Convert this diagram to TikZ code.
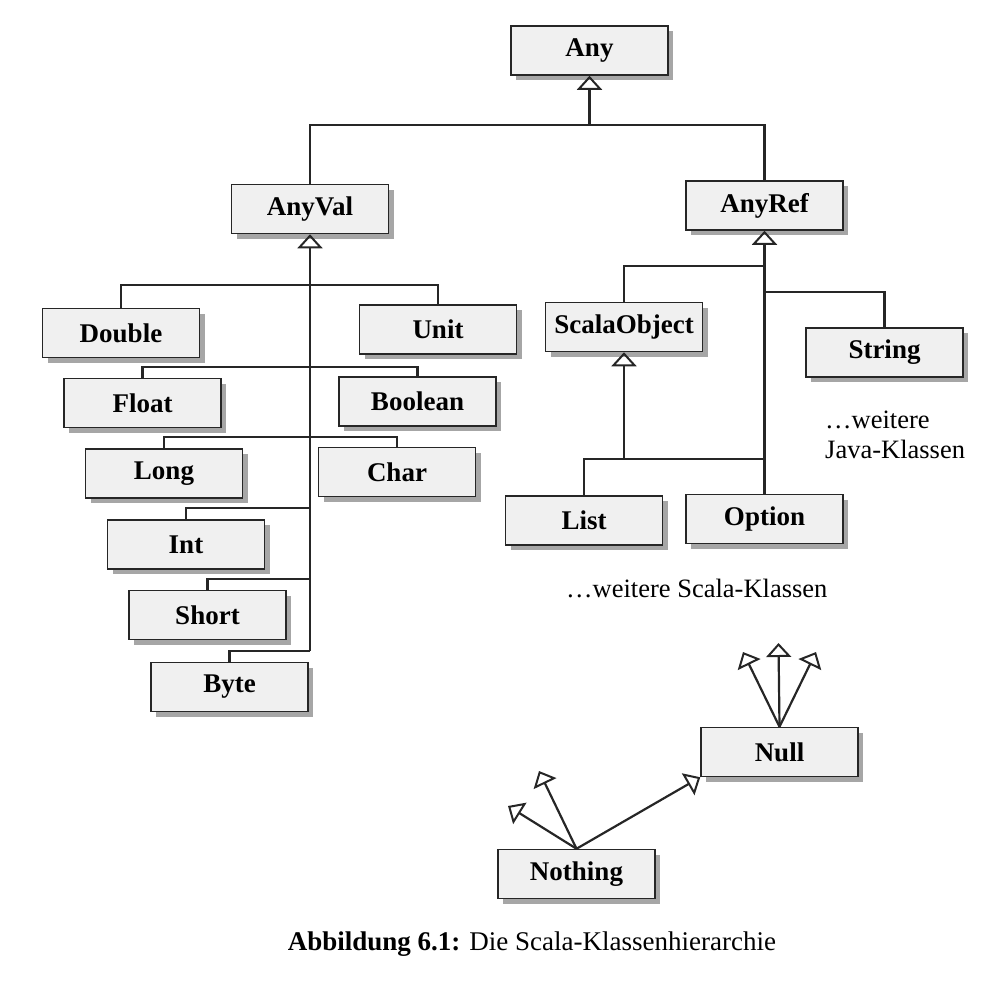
\documentclass[tikz,border=0pt]{standalone}
\usepackage{fontspec}
\setmainfont{Liberation Serif}
\usetikzlibrary{arrows.meta,shadows}
\tikzset{
  cls/.style={draw=black!85, line width=1.5pt, fill=black!6,
    minimum width=157pt, minimum height=49pt, inner sep=0pt,
    font=\bfseries\fontsize{27}{30}\selectfont,
    drop shadow={shadow xshift=5pt, shadow yshift=-5pt, fill=black!35, opacity=1}},
  conn/.style={draw=black!85, line width=2.2pt},
  inh/.style={conn, -{Triangle[open, length=14pt, width=25pt, line width=2pt]}},
  note/.style={inner sep=0pt, font=\fontsize{26.5}{30}\selectfont},
}
\begin{document}
\begin{tikzpicture}[x=1pt, y=-1pt]
\useasboundingbox (0,0) rectangle (1004,996);

% nodes
\node[cls] (any) at (589.5,50.5) {Any};
\node[cls] (anyval) at (310,209) {AnyVal};
\node[cls] (anyref) at (764.5,205.5) {AnyRef};
\node[cls] (double) at (121,333) {Double};
\node[cls] (unit) at (438,329.5) {Unit};
\node[cls] (float) at (142.5,403) {Float};
\node[cls] (boolean) at (417.5,401.5) {Boolean};
\node[cls] (long) at (164,473.5) {Long};
\node[cls] (char) at (397,472) {Char};
\node[cls] (int) at (186,544.5) {Int};
\node[cls] (short) at (207.5,615) {Short};
\node[cls] (byte) at (229.5,687) {Byte};
\node[cls] (scalaobject) at (624,327) {ScalaObject};
\node[cls] (string) at (884.5,352.5) {String};
\node[cls] (list) at (584,520.5) {List};
\node[cls] (option) at (764.5,519) {Option};
\node[cls] (null) at (779.5,752) {Null};
\node[cls] (nothing) at (576.5,874) {Nothing};

% junction coordinates
\coordinate (t0) at (589.5,125);
\coordinate (j1) at (310,285);
\coordinate (j2) at (310,367);
\coordinate (j3) at (310,437);
\coordinate (j4) at (310,508);
\coordinate (j5) at (310,579);
\coordinate (j6) at (310,651);
\coordinate (r1) at (764.5,266);
\coordinate (r2) at (764.5,292);
\coordinate (r3) at (764.5,459);
\coordinate (l1) at (624,459);

% top level
\draw[inh] (t0) -- (any.south);
\draw[conn] (anyval.north) |- (t0) -| (anyref.north);

% AnyVal subtree
\draw[inh] (j6) -- (anyval.south);
\draw[conn] (double.north) |- (j1) -| (unit.north);
\draw[conn] (float.north) |- (j2) -| (boolean.north);
\draw[conn] (long.north) |- (j3) -| (char.north);
\draw[conn] (int.north) |- (j4);
\draw[conn] (short.north) |- (j5);
\draw[conn] (byte.north) |- (j6);

% AnyRef subtree
\draw[inh] (option.north) -- (anyref.south);
\draw[conn] (scalaobject.north) |- (r1);
\draw[conn] (r2) -| (string.north);
\draw[conn] (list.north) |- (r3);
\draw[inh] (l1) -- (scalaobject.south);

% Null arrows
\coordinate (n1) at (743,652);
\coordinate (n2) at (778.5,643);
\coordinate (n3) at (816,652);
\draw[inh] (null.north) -- (n1);
\draw[inh] (null.north) -- (n2);
\draw[inh] (null.north) -- (n3);

% Nothing arrows
\coordinate (m1) at (508,806);
\coordinate (m2) at (539,771);
\draw[inh] (nothing.north) -- (m1);
\draw[inh] (nothing.north) -- (m2);
\draw[inh] (nothing.north) -- (null.south west);

% annotations
\node[note, anchor=base west] (jw) at (825,428) {\ldots weitere};
\node[note, anchor=base west] (jk) at (825,458) {Java-Klassen};
\node[note, anchor=base west] (sk) at (566,597) {\ldots weitere Scala-Klassen};
\node[note, anchor=base, font=\fontsize{27}{30}\selectfont] (cap) at (532,950) {\textbf{Abbildung 6.1:} Die Scala-Klassenhierarchie};
\end{tikzpicture}
\end{document}
